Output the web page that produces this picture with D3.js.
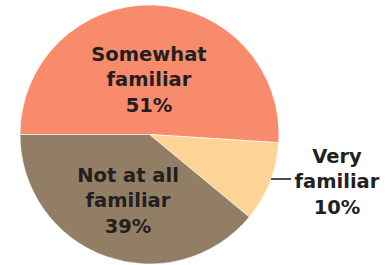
<!DOCTYPE html>
<html><head><meta charset="utf-8">
<script src="https://cdn.jsdelivr.net/npm/d3@7"></script>
<style>html,body{margin:0;padding:0;background:#fff;}svg{display:block;}</style>
</head><body><svg id="c" width="390" height="265"></svg>
<script>
const categories = ["Somewhat familiar", "Very familiar", "Not at all familiar"];
const values = [51, 10, 39];
const labelLines = [["Somewhat", "familiar", "51%"], ["Very", "familiar", "10%"], ["Not at all", "familiar", "39%"]];
const colors = ["#F78B6C", "#FDD396", "#927D65"];

const svg = d3.select("#c");
const cx = 149.5, cy = 134.5, r = 129.5;
const g = svg.append("g").attr("transform", `translate(${cx},${cy})`);
const pie = d3.pie().sort(null).value(d => d).startAngle(-Math.PI/2).endAngle(1.5*Math.PI);
const arcs = pie(values);
const arc = d3.arc().innerRadius(0).outerRadius(r);
g.selectAll("path").data(arcs).join("path")
  .attr("d", arc).attr("fill", (d,i) => colors[i])
  .attr("stroke", "#fff").attr("stroke-width", 0.6);

const font = "'DejaVu Sans', Verdana, sans-serif";
const lab = [ {x:149, y:61}, {x:337, y:163}, {x:128, y:182} ];
labelLines.forEach((lines, i) => {
  const t = svg.append("text").attr("text-anchor", "middle")
    .attr("font-family", font).attr("font-weight", "bold").attr("font-size", 19.5)
    .attr("fill", "#231F20");
  lines.forEach((s, j) => t.append("tspan").attr("x", lab[i].x).attr("y", lab[i].y + j*25.3).text(s));
});
// leader line for small slice
svg.append("line").attr("x1", 271).attr("x2", 291).attr("y1", 179).attr("y2", 179)
  .attr("stroke", "#231F20").attr("stroke-width", 1.6);
</script></body></html>
